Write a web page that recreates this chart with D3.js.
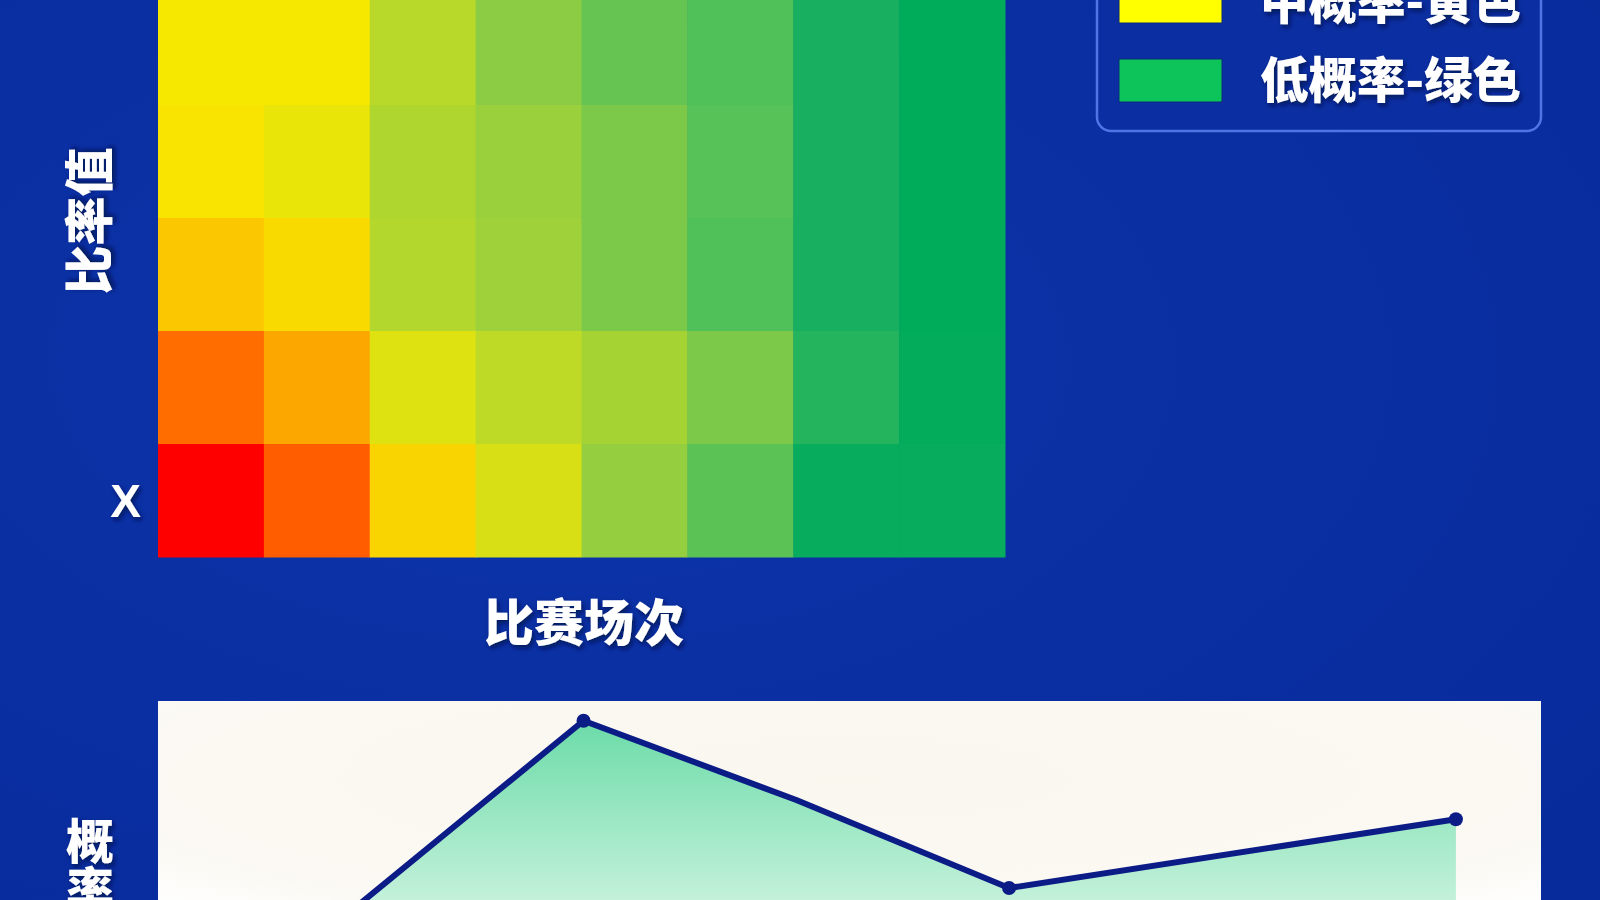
<!DOCTYPE html>
<html><head><meta charset="utf-8">
<script src="https://cdn.jsdelivr.net/npm/d3@7"></script>
<style>
html,body{margin:0;padding:0;background:#0a2d9e;overflow:hidden}
svg{display:block}
text{font-family:"Noto Sans CJK SC","Noto Sans",sans-serif;font-weight:900;fill:#fff}
</style></head>
<body>
<svg id="c" width="1600" height="900"></svg>
<script>
// ---------- data ----------
const matchCols = ["1","2","3","4","5","6","7","8"];
const rateRows = ["r5","r4","r3","r2","r1"];
const rowTickLabels = ["", "", "", "", "X"];
// probability per cell (rows top -> bottom, cols left -> right)
const heatValues = [
  [0.50, 0.50, 0.40, 0.30, 0.23, 0.19, 0.10, 0.00],
  [0.52, 0.48, 0.38, 0.33, 0.27, 0.20, 0.10, 0.00],
  [0.63, 0.57, 0.39, 0.34, 0.27, 0.19, 0.10, 0.00],
  [0.86, 0.71, 0.46, 0.41, 0.36, 0.27, 0.12, 0.01],
  [1.00, 0.88, 0.60, 0.45, 0.32, 0.21, 0.03, 0.03]
];
const colorStops = [0.0, 0.1, 0.2, 0.3, 0.4, 0.5, 0.6, 0.7, 0.85, 1.0];
const colorRange = ["#00ab5a","#18b060","#56c258","#8ccc44","#b8d82a","#f7e800","#fad400","#fcaa00","#ff7400","#ff0000"];
const legendLabels = ["高概率-红色", "中概率-黄色", "低概率-绿色"];
const legendColors = ["#ff0000", "#ffff00", "#0cc45a"];
const lineMatches = [0.85, 2, 3, 4, 6.1];
const lineProbs = [0.60, 0.964, 0.82, 0.66, 0.785];
const xTitle = "比赛场次";
const yTitle = "比率值";
const y2Title = "概率";

// ---------- setup ----------
const svg = d3.select("#c");
const defs = svg.append("defs");
const bg = defs.append("radialGradient").attr("id","bg").attr("cx","35%").attr("cy","40%").attr("r","80%");
bg.append("stop").attr("offset","0%").attr("stop-color","#0c34aa");
bg.append("stop").attr("offset","100%").attr("stop-color","#082b9c");
const sh = defs.append("filter").attr("id","sh").attr("x","-20%").attr("y","-20%").attr("width","140%").attr("height","140%");
sh.append("feDropShadow").attr("dx",2).attr("dy",3).attr("stdDeviation",2.5).attr("flood-color","#000a40").attr("flood-opacity",0.75);
svg.append("rect").attr("width",1600).attr("height",900).attr("fill","url(#bg)");

// ---------- heatmap ----------
const x = d3.scaleBand().domain(matchCols).range([158, 1005]).padding(0);
const y = d3.scaleBand().domain(rateRows).range([-8, 557]).padding(0);
const color = d3.scaleLinear().domain(colorStops).range(colorRange).interpolate(d3.interpolateRgb);
const cells = [];
heatValues.forEach((row, ri) => row.forEach((v, ci) => cells.push({r: rateRows[ri], c: matchCols[ci], v})));
svg.append("g").selectAll("rect").data(cells).join("rect")
  .attr("x", d => x(d.c)).attr("y", d => y(d.r))
  .attr("width", x.bandwidth() + 0.5).attr("height", y.bandwidth() + 0.5)
  .attr("fill", d => color(d.v));

const yAxis = svg.append("g").attr("transform","translate(150,0)")
  .call(d3.axisLeft(y).tickSize(0).tickFormat((d,i) => rowTickLabels[i]));
yAxis.select(".domain").remove();
yAxis.selectAll("text").attr("x", -9).attr("dy","0.36em")
  .style("font-family","'Liberation Sans','DejaVu Sans',sans-serif").style("font-size","46px").style("font-weight","700")
  .attr("fill","#fff").attr("filter","url(#sh)");

svg.append("text").attr("x", 584).attr("y", 623).attr("dy","0.35em").attr("text-anchor","middle")
  .style("font-size","50px").attr("filter","url(#sh)").text(xTitle);
svg.append("text").attr("transform","translate(90,221) rotate(-90)").attr("dy","0.35em").attr("text-anchor","middle")
  .style("font-size","49px").attr("filter","url(#sh)").text(yTitle);

// ---------- legend ----------
const lg = svg.append("g");
lg.append("rect").attr("x",1097).attr("y",-120).attr("width",444).attr("height",251).attr("rx",14)
  .attr("fill","#0b2fa2").attr("stroke","#4f74e4").attr("stroke-width",2.5);
const items = lg.selectAll("g.it").data(legendLabels).join("g").attr("class","it")
  .attr("transform",(d,i) => `translate(1119,${59 - (legendLabels.length - 1 - i) * 79})`);
items.append("rect").attr("width",103).attr("height",43).attr("fill",(d,i)=>legendColors[i])
  .attr("stroke","#0a2a80").attr("stroke-width",1);
items.append("text").attr("x",141).attr("y",22).attr("dy","0.36em").style("font-size","48.5px")
  .attr("filter","url(#sh)").text(d=>d);

// ---------- bottom line/area chart ----------
const px = 158, py = 701, pw = 1383, ph = 260;
const pg = defs.append("radialGradient").attr("id","panel").attr("cx","50%").attr("cy","30%").attr("r","70%");
pg.append("stop").attr("offset","0%").attr("stop-color","#faf7ef");
pg.append("stop").attr("offset","80%").attr("stop-color","#fbf9f3");
pg.append("stop").attr("offset","100%").attr("stop-color","#ffffff");
svg.append("rect").attr("x",px).attr("y",py).attr("width",pw).attr("height",ph).attr("fill","url(#panel)");
defs.append("clipPath").attr("id","pc").append("rect").attr("x",px).attr("y",py).attr("width",pw).attr("height",ph);

const xs = d3.scaleLinear().domain([0, 6.5]).range([px, px + pw]);
const ys = d3.scaleLinear().domain([0, 1]).range([py + 550, py]);
const pts = lineMatches.map((m,i) => ({m, p: lineProbs[i]}));
const ag = defs.append("linearGradient").attr("id","ag").attr("gradientUnits","userSpaceOnUse")
  .attr("x1",0).attr("y1",ys(1)).attr("x2",0).attr("y2",900);
ag.append("stop").attr("offset","0%").attr("stop-color","#62d9a3");
ag.append("stop").attr("offset","100%").attr("stop-color","#c3f1da");
const cg = svg.append("g").attr("clip-path","url(#pc)");
cg.append("path").datum(pts)
  .attr("d", d3.area().x(d=>xs(d.m)).y0(ys(0)).y1(d=>ys(d.p)))
  .attr("fill","url(#ag)");
cg.append("path").datum(pts)
  .attr("d", d3.line().x(d=>xs(d.m)).y(d=>ys(d.p)))
  .attr("fill","none").attr("stroke","#0c1c86").attr("stroke-width",6).attr("stroke-linejoin","round");
// markers on turning points and end points
const marked = pts.filter((d,i) => i === 0 || i === pts.length-1 ||
  (d.p - pts[i-1].p) * (pts[i+1].p - d.p) < 0);
cg.selectAll("circle").data(marked).join("circle")
  .attr("cx", d=>xs(d.m)).attr("cy", d=>ys(d.p)).attr("r",7).attr("fill","#0c1c86");

svg.append("text").attr("x",90).attr("y",817)
  .style("font-size","48px").style("writing-mode","vertical-rl").style("text-orientation","upright")
  .attr("filter","url(#sh)").text(y2Title);
</script>
</body></html>
